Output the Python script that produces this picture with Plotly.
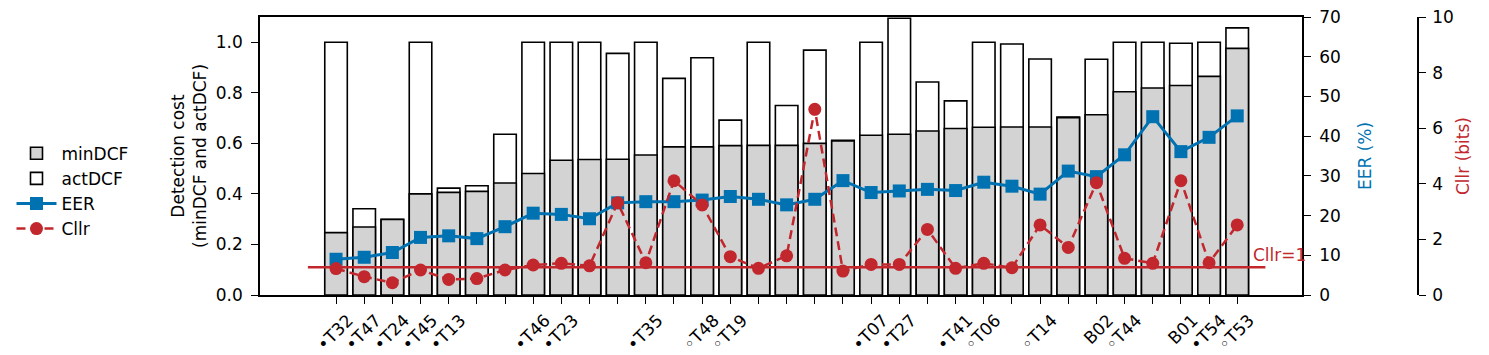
import plotly.graph_objects as go

labels = ["•T32", "•T47", "•T24", "•T45", "•T13", "", "", "•T46", "•T23", "", "",
          "•T35", "", "◦T48", "◦T19", "", "", "", "", "•T07", "•T27", "", "•T41",
          "◦T06", "", "◦T14", "", "B02", "◦T44", "", "B01", "•T54", "◦T53"]

min_dcf = [0.247, 0.269, 0.299, 0.400, 0.406, 0.410, 0.443, 0.481, 0.533, 0.536, 0.537,
           0.554, 0.586, 0.586, 0.591, 0.592, 0.592, 0.600, 0.610, 0.632, 0.636, 0.649,
           0.659, 0.664, 0.665, 0.665, 0.702, 0.713, 0.804, 0.819, 0.829, 0.865, 0.976]

act_dcf = [1.000, 0.341, 0.300, 1.000, 0.423, 0.432, 0.636, 1.000, 1.000, 1.000, 0.956,
           1.000, 0.857, 0.939, 0.692, 1.000, 0.750, 0.969, 0.612, 1.000, 1.095, 0.843,
           0.768, 1.000, 0.993, 0.934, 0.704, 0.933, 1.000, 1.000, 0.996, 1.000, 1.057]

eer = [9.0, 9.5, 10.7, 14.5, 14.9, 14.2, 17.2, 20.6, 20.3, 19.2, 23.2,
       23.5, 23.5, 23.9, 24.8, 24.1, 22.7, 24.1, 28.8, 25.8, 26.2, 26.6,
       26.3, 28.4, 27.4, 25.4, 31.2, 29.8, 35.3, 44.9, 36.1, 39.7, 45.1]

cllr = [0.95, 0.66, 0.44, 0.90, 0.56, 0.59, 0.90, 1.08, 1.14, 1.05, 3.32,
        1.16, 4.11, 3.24, 1.38, 0.96, 1.41, 6.68, 0.86, 1.10, 1.10, 2.36,
        0.96, 1.14, 0.98, 2.52, 1.71, 4.04, 1.32, 1.14, 4.11, 1.16, 2.52]

cllr_ref = 1.0
ref_x = [-1, 33]

idx = list(range(len(labels)))

BLUE = "#0072b2"
RED = "#c1272d"
FONT = dict(family="DejaVu Sans", size=17, color="black")

fig = go.Figure()

fig.add_trace(go.Bar(x=idx, y=act_dcf, name="actDCF", width=0.8,
                     marker=dict(color="white", line=dict(color="black", width=1.6)),
                     legendrank=2, yaxis="y", xaxis="x"))
fig.add_trace(go.Bar(x=idx, y=min_dcf, name="minDCF", width=0.8,
                     marker=dict(color="#d3d3d3", line=dict(color="black", width=1.6)),
                     legendrank=1, yaxis="y", xaxis="x"))
fig.add_trace(go.Scatter(x=idx, y=eer, name="EER", mode="lines+markers",
                         line=dict(color=BLUE, width=3),
                         marker=dict(symbol="square", size=13, color=BLUE),
                         legendrank=3, yaxis="y2"))
fig.add_trace(go.Scatter(x=ref_x, y=[cllr_ref, cllr_ref], mode="lines",
                         line=dict(color=RED, width=2.5), showlegend=False,
                         hoverinfo="skip", yaxis="y3"))
fig.add_trace(go.Scatter(x=idx, y=cllr, name="Cllr", mode="lines+markers",
                         line=dict(color=RED, width=2.5, dash="9px,5px"),
                         marker=dict(symbol="circle", size=13, color=RED),
                         legendrank=4, yaxis="y3"))

# page is offset by the 8px body margin
ML, MR, MT, MB = 252, 71, 9, 60
FW, FH = 1481, 347
W_PLOT = FW - ML - MR
dom_right = (1302 - 8 - ML) / W_PLOT

axis_common = dict(showgrid=False, zeroline=False, showline=True, linecolor="black",
                   linewidth=1.5, ticks="outside", ticklen=7, tickwidth=1.3,
                   tickcolor="black", tickfont=FONT, automargin=False,
                   ticklabeloverflow="allow")

fig.update_layout(
    width=FW, height=FH,
    margin=dict(l=ML, r=MR, t=MT, b=MB, autoexpand=False),
    plot_bgcolor="white", paper_bgcolor="white",
    barmode="overlay",
    font=FONT,
    showlegend=True,
    legend=dict(x=-0.2146, y=0.573, xanchor="left", yanchor="top",
                font=dict(family="DejaVu Sans", size=17, color="black"),
                bgcolor="rgba(0,0,0,0)", tracegroupgap=0, itemwidth=40),
    xaxis=dict(domain=[0, dom_right], range=[-2.7, 34.3], tickmode="array",
               tickvals=idx, ticktext=labels, tickangle=-45, mirror=True,
               ticklabelshift=12, **axis_common),
    yaxis=dict(range=[0, 1.1], tickmode="array", tickvals=[0, 0.2, 0.4, 0.6, 0.8, 1.0],
               tickformat=".1f", ticklabelstandoff=5,
               **axis_common),
    yaxis2=dict(range=[0, 70], tickmode="array", tickvals=list(range(0, 71, 10)),
                overlaying="y", side="right", anchor="x", ticklabelstandoff=5,
                title=dict(text="EER (%)", font=dict(family="DejaVu Sans", size=17, color=BLUE), standoff=19),
                **axis_common),
    yaxis3=dict(range=[0, 10], tickmode="array", tickvals=list(range(0, 11, 2)),
                overlaying="y", side="right", anchor="free", position=1.0, ticklabelstandoff=3,
                title=dict(text="Cllr (bits)", font=dict(family="DejaVu Sans", size=17, color=RED), standoff=3),
                **axis_common),
    annotations=[
        dict(x=32.5, y=cllr_ref, xref="x", yref="y3", text="Cllr=1",
             showarrow=False, xanchor="left", yanchor="bottom",
             font=dict(family="DejaVu Sans", size=17, color=RED)),
        dict(x=(189 - 8 - ML) / W_PLOT, y=0.5, xref="paper", yref="paper",
             text="Detection cost<br>(minDCF and actDCF)", textangle=-90,
             showarrow=False, xanchor="center", yanchor="middle",
             font=FONT),
    ],
)

fig.write_html("out.html")
